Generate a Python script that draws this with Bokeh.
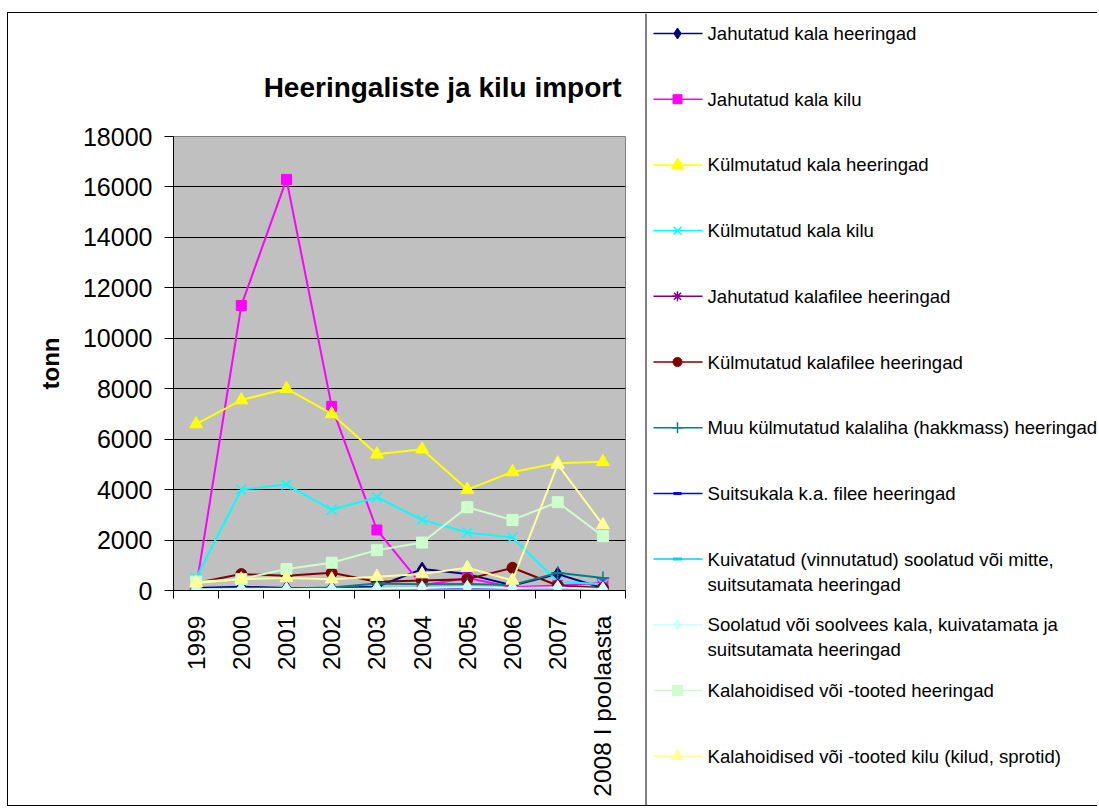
import math
from bokeh.plotting import figure
from bokeh.models import (Range1d, LinearAxis, FixedTicker, SingleIntervalTicker)
from bokeh.layouts import row
from bokeh.embed import file_html
from bokeh.resources import INLINE
from bokeh.core.properties import value

# ---------------- data ----------------
years = ["1999", "2000", "2001", "2002", "2003", "2004", "2005", "2006", "2007", "2008 I poolaasta"]

jahutatud_kala_heeringad = [100, 150, 100, 100, 150, 850, 650, 200, 650, 100]
jahutatud_kala_kilu = [100, 11300, 16300, 7300, 2400, 200, 500, 130, 200, 300]
kulmutatud_kala_heeringad = [6600, 7550, 8000, 7000, 5400, 5600, 4000, 4700, 5050, 5100]
kulmutatud_kala_kilu = [500, 4000, 4200, 3200, 3700, 2800, 2300, 2100, 350, 250]
jahutatud_kalafilee_heeringad = [0, 0, 0, 0, 0, 0, 0, 0, 0, 0]
kulmutatud_kalafilee_heeringad = [300, 650, 580, 700, 350, 400, 450, 900, 200, 100]
muu_kalaliha_heeringad = [50, 100, 80, 120, 280, 250, 260, 220, 700, 500]
suitsukala_heeringad = [30, 40, 30, 30, 50, 60, 60, 50, 50, 40]
kuivatatud_heeringad = [10, 10, 10, 10, 20, 20, 20, 20, 30, 20]
soolatud_heeringad = [50, 60, 60, 60, 80, 100, 130, 100, 120, 60]
kalahoidised_heeringad = [350, 450, 850, 1100, 1600, 1900, 3300, 2800, 3500, 2150]
kalahoidised_kilu = [300, 450, 500, 450, 550, 650, 900, 400, 5000, 2600]

series_names = [
    "Jahutatud kala heeringad",
    "Jahutatud kala kilu",
    "Külmutatud kala heeringad",
    "Külmutatud kala kilu",
    "Jahutatud kalafilee heeringad",
    "Külmutatud kalafilee heeringad",
    "Muu külmutatud kalaliha (hakkmass) heeringad",
    "Suitsukala k.a. filee heeringad",
    "Kuivatatud (vinnutatud) soolatud või mitte,\nsuitsutamata heeringad",
    "Soolatud või soolvees  kala, kuivatamata ja\nsuitsutamata heeringad",
    "Kalahoidised või -tooted heeringad",
    "Kalahoidised või -tooted kilu (kilud, sprotid)",
]
series_values = [
    jahutatud_kala_heeringad, jahutatud_kala_kilu, kulmutatud_kala_heeringad,
    kulmutatud_kala_kilu, jahutatud_kalafilee_heeringad, kulmutatud_kalafilee_heeringad,
    muu_kalaliha_heeringad, suitsukala_heeringad, kuivatatud_heeringad,
    soolatud_heeringad, kalahoidised_heeringad, kalahoidised_kilu,
]

# ---------------- styles ----------------
colors = ["#000080", "#FF00FF", "#FFFF00", "#00FFFF", "#800080", "#800000",
          "#008080", "#0000FF", "#00CCFF", "#CCFFFF", "#CCFFCC", "#FFFF99"]
markers = ["diamond", "square", "triangle", "x", "asterisk", "circle",
           "cross", "dash", "dash", "diamond", "square", "triangle"]
msizes = [14, 10, 13, 14, 11, 11, 13, 8, 10, 14, 11, 13]
lsizes = [11, 9, 12, 11, 10, 9, 11, 8, 9, 11, 10, 12]
mline = [1, 1, 1, 1.5, 1.5, 1, 1.5, 3, 3, 1, 1, 1]
filled = [True, True, True, False, False, True, False, False, False, True, True, True]

FONT = "Liberation Sans"
W_CHART, W_LEG, H = 637, 452, 792
BORDER_TOP, FRAME_H = 123, 454

# category slots: centre of each category on a 0..N axis
n_cat = len(years)
x_pos = [i + 0.5 for i in range(n_cat)]
x_bounds = list(range(n_cat + 1))

# ---------------- chart ----------------
p = figure(x_range=Range1d(0, n_cat), y_range=Range1d(0, 18000), width=W_CHART, height=H,
           output_backend="svg", toolbar_location=None, x_axis_location=None,
           min_border_left=165, min_border_right=20, min_border_top=BORDER_TOP,
           min_border_bottom=H - BORDER_TOP - FRAME_H)
p.frame_align = False
p.background_fill_color = "#C0C0C0"
p.border_fill_color = "white"
p.outline_line_color = "#808080"
p.outline_line_width = 1
p.xgrid.visible = False
p.ygrid.grid_line_color = "black"
p.ygrid.grid_line_width = 1
p.ygrid.ticker = SingleIntervalTicker(interval=2000, num_minor_ticks=0)

p.title.text = "Heeringaliste ja kilu import"
p.title.align = "right"
p.title.text_font = FONT
p.title.text_font_size = "28px"
p.title.text_font_style = "bold"
p.title.text_color = "black"
p.title.standoff = 68
p.title.offset = 4

ya = p.yaxis[0]
ya.ticker = SingleIntervalTicker(interval=2000, num_minor_ticks=0)
ya.major_label_text_font = FONT
ya.major_label_text_font_size = "25px"
ya.major_label_text_color = "black"
ya.major_label_standoff = 12
ya.major_tick_out = 9
ya.major_tick_in = 0
ya.minor_tick_out = 0
ya.minor_tick_in = 0
ya.axis_line_color = "black"
ya.major_tick_line_color = "black"
ya.axis_label = "tonn"
ya.axis_label_text_font = FONT
ya.axis_label_text_font_size = "24px"
ya.axis_label_text_font_style = "bold"
ya.axis_label_text_color = "black"
ya.axis_label_standoff = 16

# category labels at slot centres, tick marks (minor) at slot boundaries
cat_axis = LinearAxis(ticker=FixedTicker(ticks=x_pos, minor_ticks=x_bounds),
                      major_label_overrides={x: lab for x, lab in zip(x_pos, years)},
                      major_tick_line_color=None, major_tick_out=0, major_tick_in=0,
                      minor_tick_line_color="black", minor_tick_out=8, minor_tick_in=0,
                      axis_line_color="black",
                      major_label_orientation=math.pi / 2,
                      major_label_text_font=FONT,
                      major_label_text_font_size="24.5px",
                      major_label_text_color="black",
                      major_label_standoff=17)
p.add_layout(cat_axis, "below")

for vals, c, m, s, lw, f in zip(series_values, colors, markers, msizes, mline, filled):
    p.line(x_pos, vals, line_color=c, line_width=2)
    p.scatter(x_pos, vals, marker=m, size=s, line_color=c, line_width=lw,
              fill_color=c if f else None)

# ---------------- legend panel ----------------
leg = figure(width=W_LEG, height=H, x_range=Range1d(0, W_LEG), y_range=Range1d(H, 0),
             output_backend="svg", toolbar_location=None,
             x_axis_location=None, y_axis_location=None, min_border=0)
leg.frame_align = False
leg.title.visible = False
leg.grid.visible = False
leg.outline_line_color = None
leg.background_fill_color = "white"
leg.border_fill_color = "white"
# divider line between chart and legend
leg.segment(x0=[0], y0=[0], x1=[0], y1=[H], line_color="black", line_width=2)

row_y0, row_dy = 20, 65.7
x_line0, x_line1, x_mark, x_text = 8, 57, 32, 62
tx, ty, tt = [], [], []
for i, name in enumerate(series_names):
    y = row_y0 + i * row_dy
    leg.segment(x0=[x_line0], y0=[y], x1=[x_line1], y1=[y],
                line_color=colors[i], line_width=1.5)
    leg.scatter(x=[x_mark], y=[y], marker=markers[i], size=lsizes[i],
                line_color=colors[i], line_width=mline[i],
                fill_color=colors[i] if filled[i] else None)
    for j, part in enumerate(name.split("\n")):
        tx.append(x_text)
        ty.append(y + j * 25)
        tt.append(part)
leg.text(x=tx, y=ty, text=tt, text_font=value(FONT), text_font_size="18.6px",
         text_baseline="middle", text_align="left", text_color="black")

layout = row(p, leg, margin=(12, 0, 0, 7),
             styles={"border-left": "1px solid black",
                     "border-top": "1px solid black",
                     "border-bottom": "1px solid black"})
open("out.html", "w").write(file_html(layout, INLINE))
